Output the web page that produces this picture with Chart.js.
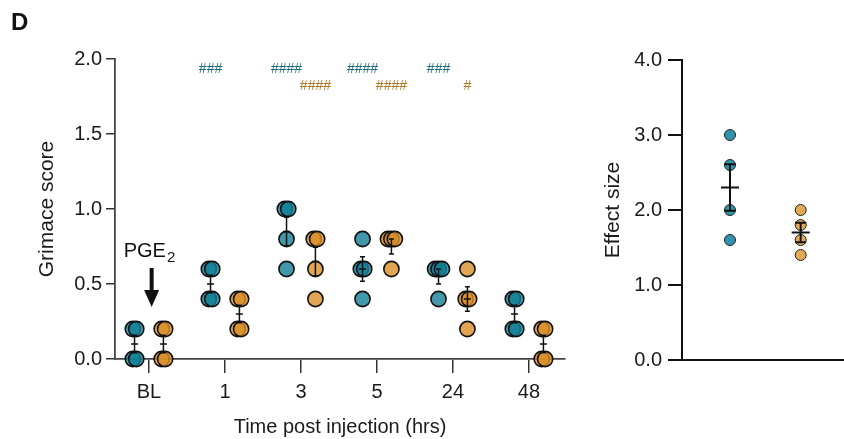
<!DOCTYPE html>
<html>
<head>
<meta charset="utf-8">
<title>Grimace score</title>
<script src="https://cdn.jsdelivr.net/npm/chart.js"></script>
<style>
  body { margin: 0; background: #fff; }
  #wrap { position: relative; width: 844px; height: 439px; }
  #grimace { position: absolute; left: 0; top: 0; }
  #effect { position: absolute; left: 590px; top: 0; }
  #panel { position: absolute; left: 11px; top: 8px; font: bold 24px "Liberation Sans", Arial, sans-serif; color: #111; }
</style>
</head>
<body>
<div id="wrap">
  <canvas id="grimace" width="590" height="439"></canvas>
  <canvas id="effect" width="254" height="439"></canvas>
  <div id="panel">D</div>
</div>
<script>
// data (n = 4 per group)
var timeLabels = ['BL', '1', '3', '5', '24', '48'];
var tealScores = [[0, 0, 0.2, 0.2], [0.6, 0.6, 0.4, 0.4], [1.0, 1.0, 0.8, 0.6], [0.8, 0.6, 0.6, 0.4], [0.6, 0.6, 0.6, 0.4], [0.4, 0.4, 0.2, 0.2]];
var orangeScores = [[0, 0, 0.2, 0.2], [0.4, 0.4, 0.2, 0.2], [0.8, 0.8, 0.6, 0.4], [0.8, 0.8, 0.8, 0.6], [0.6, 0.4, 0.4, 0.2], [0.2, 0.2, 0, 0]];
var tealMarks = ['', '###', '####', '####', '###', ''];
var orangeMarks = ['', '', '####', '####', '#', ''];
var tealEffect = [3.0, 2.6, 2.0, 1.6];
var orangeEffect = [2.0, 1.8, 1.6, 1.4];

var FONT = '"Liberation Sans", Arial, Helvetica, sans-serif';
var TEAL = 'rgba(18,128,150,0.8)';
var ORANGE = 'rgba(218,142,40,0.8)';
var INK = '#1a1a1a';

function mean(a) {
    return a.reduce(function (s, v) { return s + v; }, 0) / a.length;
}
function sem(a) {
    var m = mean(a);
    var ss = a.reduce(function (s, v) { return s + (v - m) * (v - m); }, 0);
    return Math.sqrt(ss / (a.length - 1)) / Math.sqrt(a.length);
}

// spread repeated values a little so stacked circles show
function spread(groups, shift) {
    var pts = [];
    groups.forEach(function (vals, i) {
        var counts = {}, seen = {};
        vals.forEach(function (v) { counts[v] = (counts[v] || 0) + 1; });
        vals.forEach(function (v) {
            var k = seen[v] || 0;
            seen[v] = k + 1;
            pts.push({ x: i + shift + (k - (counts[v] - 1) / 2) * 0.045, y: v });
        });
    });
    return pts;
}

function drawBar(ctx, x, yScale, vals, half, capHalf, width) {
    var m = mean(vals), e = sem(vals);
    var yTop = yScale.getPixelForValue(m + e);
    var yBot = yScale.getPixelForValue(m - e);
    var yM = yScale.getPixelForValue(m);
    ctx.beginPath();
    ctx.moveTo(x, yTop); ctx.lineTo(x, yBot);
    ctx.moveTo(x - capHalf, yTop); ctx.lineTo(x + capHalf, yTop);
    ctx.moveTo(x - capHalf, yBot); ctx.lineTo(x + capHalf, yBot);
    ctx.moveTo(x - half, yM); ctx.lineTo(x + half, yM);
    ctx.lineWidth = width;
    ctx.strokeStyle = '#111';
    ctx.stroke();
}

var SHIFT = 0.19;

var grimaceExtras = {
    id: 'grimaceExtras',
    afterDatasetsDraw: function (chart) {
        var ctx = chart.ctx, xs = chart.scales.x, ys = chart.scales.y;
        ctx.save();
        tealScores.forEach(function (vals, i) {
            drawBar(ctx, xs.getPixelForValue(i - SHIFT), ys, vals, 3.5, 2.5, 1.5);
        });
        orangeScores.forEach(function (vals, i) {
            drawBar(ctx, xs.getPixelForValue(i + SHIFT), ys, vals, 3.5, 2.5, 1.5);
        });

        // significance marks
        ctx.font = '14px ' + FONT;
        ctx.textAlign = 'center';
        ctx.textBaseline = 'middle';
        ctx.fillStyle = '#1a6a7e';
        tealMarks.forEach(function (t, i) {
            if (t) ctx.fillText(t, xs.getPixelForValue(i - SHIFT), ys.getPixelForValue(1.93));
        });
        ctx.fillStyle = '#ad7622';
        orangeMarks.forEach(function (t, i) {
            if (t) ctx.fillText(t, xs.getPixelForValue(i + SHIFT), ys.getPixelForValue(1.82));
        });

        // PGE2 injection arrow at baseline
        var cx = xs.getPixelForValue(0);
        ctx.fillStyle = '#111';
        ctx.font = '20px ' + FONT;
        var w1 = ctx.measureText('PGE').width;
        ctx.font = '15px ' + FONT;
        var w2 = ctx.measureText('2').width;
        var left = cx - (w1 + w2) / 2;
        var ty = ys.getPixelForValue(0.715);
        ctx.textAlign = 'left';
        ctx.font = '20px ' + FONT;
        ctx.fillText('PGE', left, ty);
        ctx.font = '15px ' + FONT;
        ctx.fillText('2', left + w1 + 1, ty + 6);

        var ax = xs.getPixelForValue(0.035);
        var a0 = ys.getPixelForValue(0.607), a1 = ys.getPixelForValue(0.347);
        ctx.beginPath();
        ctx.moveTo(ax, a0); ctx.lineTo(ax, a1 - 14);
        ctx.lineWidth = 4;
        ctx.strokeStyle = '#111';
        ctx.stroke();
        ctx.beginPath();
        ctx.moveTo(ax - 7.5, a1 - 17); ctx.lineTo(ax + 7.5, a1 - 17); ctx.lineTo(ax, a1);
        ctx.closePath();
        ctx.fill();
        ctx.restore();
    }
};

new Chart(document.getElementById('grimace'), {
    type: 'scatter',
    data: {
        datasets: [{
            data: spread(tealScores, -SHIFT),
            backgroundColor: TEAL,
            borderColor: '#111',
            borderWidth: 1.6,
            pointRadius: 7.6,
            clip: false
        }, {
            data: spread(orangeScores, SHIFT),
            backgroundColor: ORANGE,
            borderColor: '#111',
            borderWidth: 1.6,
            pointRadius: 7.6,
            clip: false
        }]
    },
    options: {
        responsive: false,
        animation: false,
        layout: { autoPadding: false, padding: { top: 59, right: 25, left: 0, bottom: 0 } },
        plugins: { legend: { display: false }, tooltip: { enabled: false } },
        scales: {
            x: {
                type: 'linear',
                min: -0.447,
                max: 5.474,
                afterBuildTicks: function (s) {
                    s.ticks = timeLabels.map(function (t, i) { return { value: i }; });
                },
                afterFit: function (s) { s.height = 80; },
                ticks: {
                    callback: function (v) { return timeLabels[v]; },
                    autoSkip: false, maxRotation: 0, padding: 7,
                    color: INK, font: { size: 20, family: FONT }
                },
                grid: { drawOnChartArea: false, tickLength: 14, color: '#333', lineWidth: 1.5 },
                border: { color: '#444', width: 1.8 },
                title: {
                    display: true, text: 'Time post injection (hrs)', color: INK,
                    font: { size: 20, family: FONT }, padding: { top: 0, bottom: 0 }
                }
            },
            y: {
                min: 0,
                max: 2,
                afterBuildTicks: function (s) {
                    s.ticks = [0, 0.5, 1, 1.5, 2].map(function (v) { return { value: v }; });
                },
                afterFit: function (s) { s.width = 115; },
                ticks: {
                    callback: function (v) { return v.toFixed(1); },
                    padding: 4, color: INK, font: { size: 20, family: FONT }
                },
                grid: { drawOnChartArea: false, tickLength: 9, color: '#333', lineWidth: 1.5 },
                border: { color: '#444', width: 1.8 },
                title: {
                    display: true, text: 'Grimace score', color: INK,
                    font: { size: 21, family: FONT }, padding: { top: 35, bottom: 0 }
                }
            }
        }
    },
    plugins: [grimaceExtras]
});

var effectExtras = {
    id: 'effectExtras',
    afterDatasetsDraw: function (chart) {
        var ctx = chart.ctx, xs = chart.scales.x, ys = chart.scales.y;
        ctx.save();
        drawBar(ctx, xs.getPixelForValue(1), ys, tealEffect, 9, 5.5, 2);
        drawBar(ctx, xs.getPixelForValue(2), ys, orangeEffect, 9, 5.5, 2);
        ctx.restore();
    }
};

new Chart(document.getElementById('effect'), {
    type: 'scatter',
    data: {
        datasets: [{
            data: tealEffect.map(function (v) { return { x: 1, y: v }; }),
            backgroundColor: 'rgba(30,140,165,0.92)',
            borderColor: '#222',
            borderWidth: 1,
            pointRadius: 5.5,
            clip: false
        }, {
            data: orangeEffect.map(function (v) { return { x: 2, y: v }; }),
            backgroundColor: 'rgba(226,165,75,0.95)',
            borderColor: '#222',
            borderWidth: 1,
            pointRadius: 5.5,
            clip: false
        }]
    },
    options: {
        responsive: false,
        animation: false,
        layout: { autoPadding: false, padding: { top: 60, right: 0, left: 0, bottom: 0 } },
        plugins: { legend: { display: false }, tooltip: { enabled: false } },
        scales: {
            x: {
                type: 'linear',
                min: 0.321,
                max: 2.613,
                afterFit: function (s) { s.height = 79; },
                ticks: { display: false },
                grid: { display: false },
                border: { color: '#111', width: 2 }
            },
            y: {
                min: 0,
                max: 4,
                afterBuildTicks: function (s) {
                    s.ticks = [0, 1, 2, 3, 4].map(function (v) { return { value: v }; });
                },
                afterFit: function (s) { s.width = 92; },
                ticks: {
                    callback: function (v) { return v.toFixed(1); },
                    padding: 6, color: INK, font: { size: 20, family: FONT }
                },
                grid: { drawOnChartArea: false, tickLength: 14, color: '#111', lineWidth: 2 },
                border: { color: '#111', width: 2 },
                title: {
                    display: true, text: 'Effect size', color: INK,
                    font: { size: 21, family: FONT }, padding: { top: 11, bottom: 0 }
                }
            }
        }
    },
    plugins: [effectExtras]
});
</script>
</body>
</html>
